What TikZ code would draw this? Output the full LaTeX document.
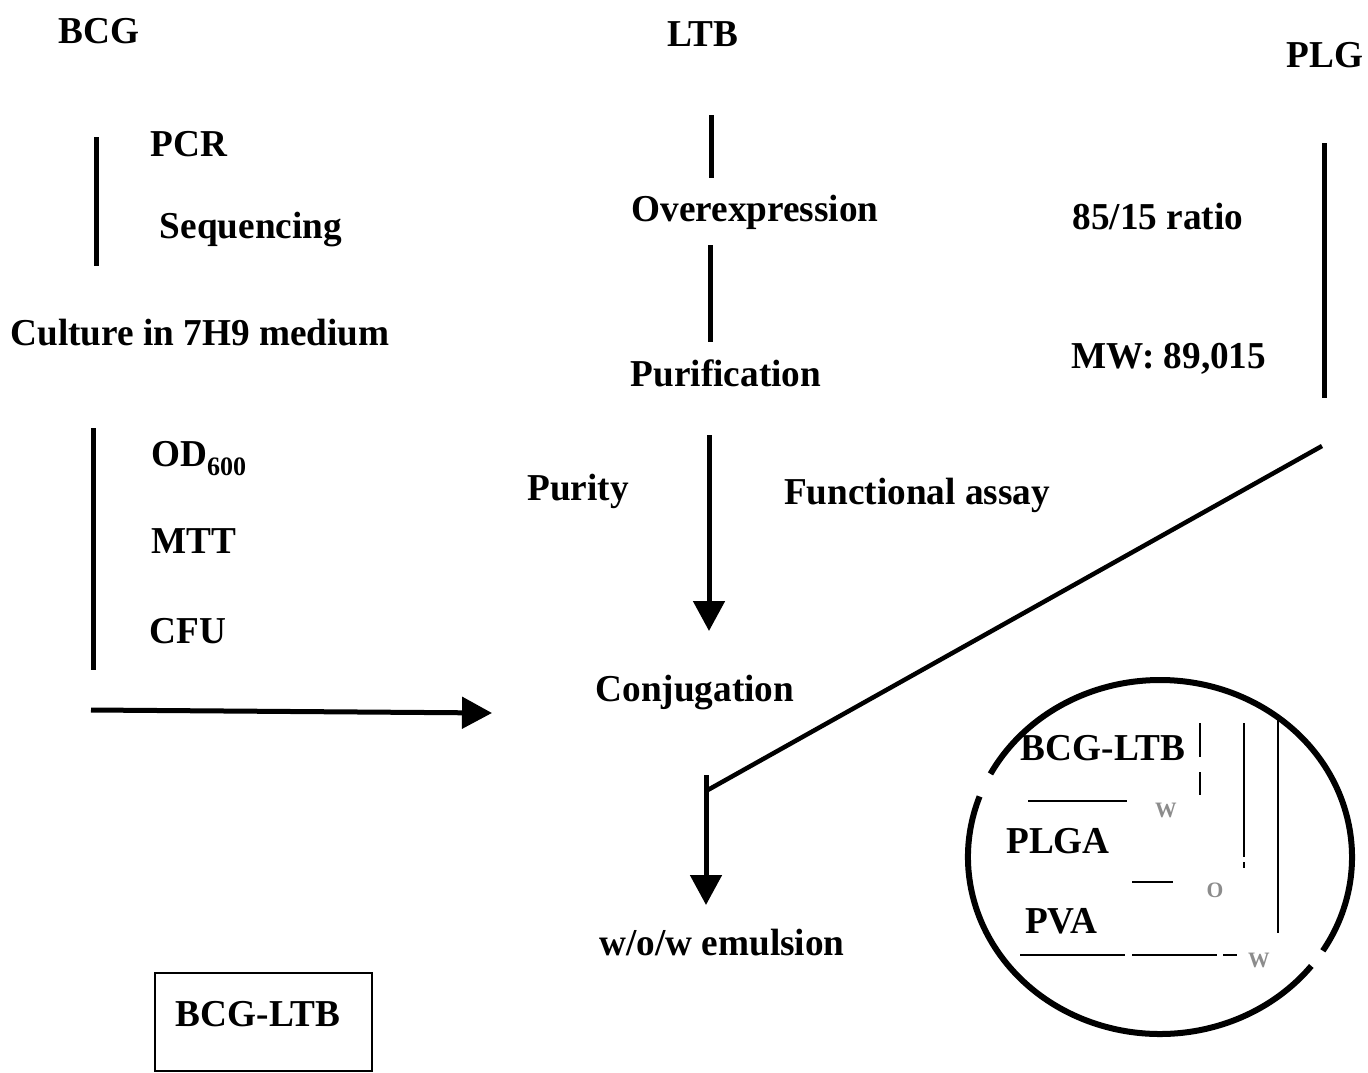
\documentclass[tikz,border=0pt]{standalone}
\usepackage{fontspec}
\setmainfont{Liberation Serif}[FakeStretch=0.98]
\usetikzlibrary{arrows.meta}
\begin{document}
\begin{tikzpicture}[x=1pt,y=-1pt,
  lbl/.style={font=\bfseries\fontsize{38}{40}\selectfont, inner sep=0pt, anchor=base},
  thick line/.style={line width=5pt},
  thin line/.style={line width=2.8pt},
  arr/.style={line width=5pt,-{Triangle[length=30pt,width=31pt]}},
  faint/.style={font=\bfseries\fontsize{22}{22}\selectfont, text=black!45, inner sep=0pt}]
\useasboundingbox (0,0) rectangle (1368,1073);
% column BCG
\node[lbl] (bcg) at (99,44) {BCG};
\node[lbl] (pcr) at (189,156) {PCR};
\node[lbl] (seq) at (251,238) {Sequencing};
\node[lbl] (cult) at (200,345) {Culture in 7H9 medium};
\node[lbl] (od) at (199,466) {OD\textsubscript{600}};
\node[lbl] (mtt) at (194,553) {MTT};
\node[lbl] (cfu) at (188,643) {CFU};
\coordinate (b1t) at (96,137); \coordinate (b1b) at (96,266);
\coordinate (b2t) at (93,428); \coordinate (b2b) at (93,670);
\draw[thick line] (b1t) -- (b1b);
\draw[thick line] (b2t) -- (b2b);
\coordinate (ha) at (91,710);
\coordinate (hb) at (492,713);
\draw[arr] (ha) -- (hb);
% box
\draw[line width=2pt] (155,973) rectangle (372,1071);
\node[lbl] (boxtxt) at (258,1026) {BCG-LTB};
% column LTB
\node[lbl] (ltb) at (703,47) {LTB};
\node[lbl] (over) at (755,221) {Overexpression};
\node[lbl] (puri) at (726,386) {Purification};
\node[lbl] (purity) at (578,500) {Purity};
\node[lbl] (func) at (917,504) {Functional assay};
\node[lbl] (conj) at (695,701) {Conjugation};
\node[lbl] (emul) at (722,955) {w/o/w emulsion};
\coordinate (l1t) at (711,115); \coordinate (l1b) at (711,178);
\coordinate (l2t) at (710,245); \coordinate (l2b) at (710,342);
\coordinate (l3t) at (709,435); \coordinate (l3b) at (709,631);
\draw[thick line] (l1t) -- (l1b);
\draw[thick line] (l2t) -- (l2b);
\draw[arr] (l3t) -- (l3b);
\coordinate (l4t) at (706,775); \coordinate (l4b) at (706,905);
\coordinate (l4j) at (706,791);
\draw[arr] (l4t) -- (l4b);
% column PLG
\node[lbl] (plg) at (1325,67) {PLG};
\node[lbl] (ratio) at (1158,229) {85/15 ratio};
\node[lbl] (mw) at (1169,368) {MW: 89,015};
\coordinate (p1t) at (1324,143); \coordinate (p1b) at (1324,398);
\draw[thick line] (p1t) -- (p1b);
\coordinate (diag) at (1322,446);
\draw[line width=4.5pt] (diag) -- (l4j);
% circle
\coordinate (cc) at (1160,857);
\draw[line width=6pt] (cc) ++(-32:192pt and 177pt) arc[start angle=-32,end angle=152,x radius=192pt,y radius=177pt];
\draw[line width=6pt] (cc) ++(160:192pt and 177pt) arc[start angle=160,end angle=322,x radius=192pt,y radius=177pt];
\node[lbl] (cbl) at (1103,760) {BCG-LTB};
\node[lbl] (cplga) at (1058,853) {PLGA};
\node[lbl] (cpva) at (1061,933) {PVA};
\draw[thin line] (1200,723) -- (1200,757) (1200,772) -- (1200,795);
\draw[thin line] (1244,723) -- (1244,857) (1244,862) -- (1244,868);
\draw[thin line] (1278,717) -- (1278,933);
\draw[thin line] (1028,801) -- (1127,801);
\draw[thin line] (1132,882) -- (1173,882);
\draw[thin line] (1020,955) -- (1125,955) (1132,955) -- (1217,955) (1223,955) -- (1237,955);
\node[faint] (w1) at (1166,810) {W};
\node[faint] (o1) at (1215,890) {O};
\node[faint] (w2) at (1259,960) {W};
\end{tikzpicture}
\end{document}
